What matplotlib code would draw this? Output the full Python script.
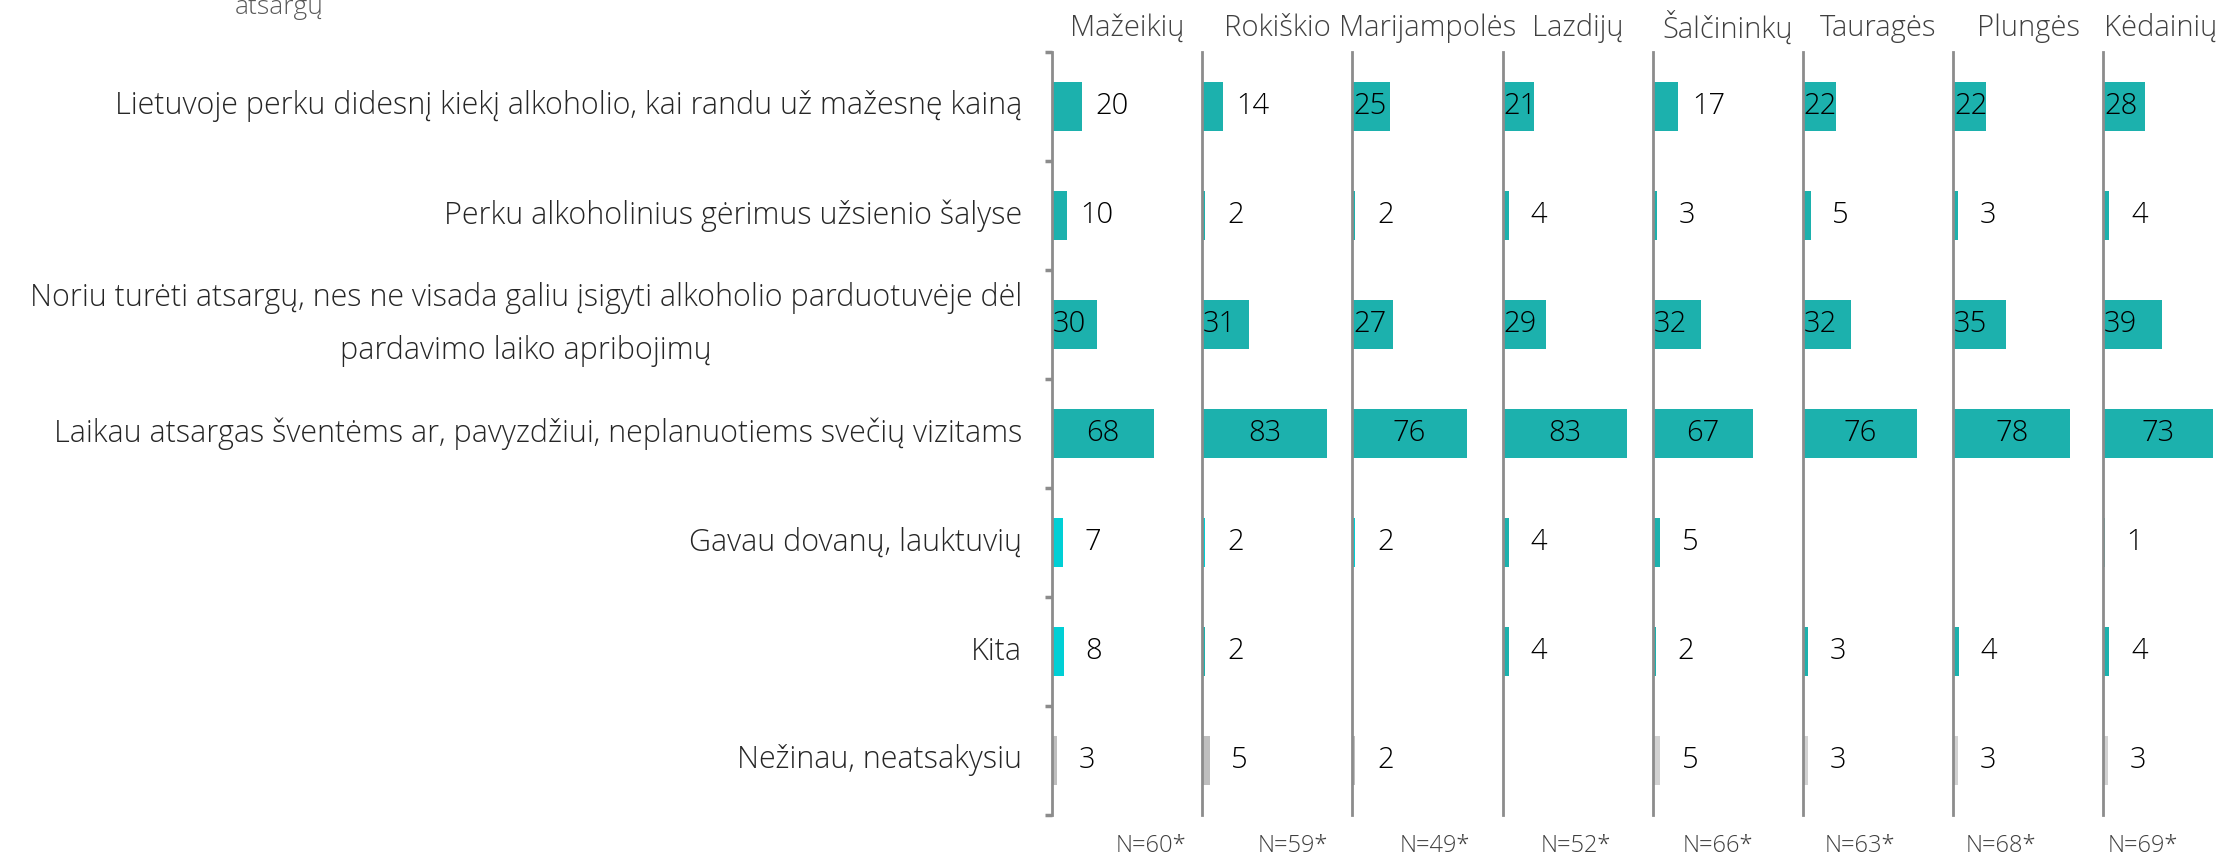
import matplotlib
matplotlib.use("Agg")
import matplotlib.pyplot as plt
import numpy as np

# Survey answers (rows) and regions (panels)
categories = [
    "Lietuvoje perku didesnį kiekį alkoholio, kai randu už mažesnę kainą",
    "Perku alkoholinius gėrimus užsienio šalyse",
    "Noriu turėti atsargų, nes ne visada galiu įsigyti alkoholio parduotuvėje dėl\npardavimo laiko apribojimų",
    "Laikau atsargas šventėms ar, pavyzdžiui, neplanuotiems svečių vizitams",
    "Gavau dovanų, lauktuvių",
    "Kita",
    "Nežinau, neatsakysiu",
]
regions = ["Mažeikių", "Rokiškio", "Marijampolės", "Lazdijų",
           "Šalčininkų", "Tauragės", "Plungės", "Kėdainių"]
sample_sizes = ["N=60*", "N=59*", "N=49*", "N=52*", "N=66*", "N=63*", "N=68*", "N=69*"]

mazeikiu = [20, 10, 30, 68, 7, 8, 3]
rokiskio = [14, 2, 31, 83, 2, 2, 5]
marijampoles = [25, 2, 27, 76, 2, None, 2]
lazdiju = [21, 4, 29, 83, 4, 4, None]
salcininku = [17, 3, 32, 67, 5, 2, 5]
taurages = [22, 5, 32, 76, None, 3, 3]
plunges = [22, 3, 35, 78, None, 4, 3]
kedainiu = [28, 4, 39, 73, 1, 4, 3]
region_values = [mazeikiu, rokiskio, marijampoles, lazdiju,
                 salcininku, taurages, plunges, kedainiu]

title_tail = "atsargų"

# Colours
TEAL = "#1CB1AD"
CYAN = "#00CFD5"
GRAY_DARK = "#BFBFBF"
GRAY_LIGHT = "#D2D2D2"
AXIS = "#8C8C8C"
TEXT = "#262626"
HEAD = "#404040"
bright_cells = {(4, 0), (4, 1), (4, 2), (5, 0)}

plt.rcParams["font.family"] = ["Open Sans", "DejaVu Sans"]
WEIGHT = "light"

W, H = 2222, 860
fig = plt.figure(figsize=(W / 100, H / 100), dpi=100)

x0_px, panel_px = 1052, 150.2
top_px, bot_px = 52, 815
bottom = (H - bot_px) / H
height = (bot_px - top_px) / H
n_rows = len(categories)
bar_h = 0.45

for p, (name, vals) in enumerate(zip(regions, region_values)):
    left = (x0_px + p * panel_px) / W
    ax = fig.add_axes([left, bottom, panel_px / W, height])
    ax.set_xlim(0, 100)
    ax.set_ylim(n_rows, 0)
    for s in ("top", "right", "bottom"):
        ax.spines[s].set_visible(False)
    ax.spines["left"].set_color(AXIS)
    ax.spines["left"].set_linewidth(2.0)
    ax.set_xticks([])
    ax.set_yticks(np.arange(n_rows + 1))
    ax.set_yticklabels([])
    if p == 0:
        ax.tick_params(axis="y", direction="out", length=5, width=2.5, color=AXIS)
    else:
        ax.tick_params(axis="y", length=0)
    ax.patch.set_alpha(0)

    for r, v in enumerate(vals):
        if v is None:
            continue
        if r == n_rows - 1:
            col = GRAY_DARK if p < 3 else GRAY_LIGHT
        elif (r, p) in bright_cells:
            col = CYAN
        else:
            col = TEAL
        yc = r + 0.5
        ax.barh(yc, v, height=bar_h, color=col, edgecolor="none", zorder=2)
        if v >= 60:
            x, ha = v / 2, "center"
        elif v > 20:
            x, ha = 0.5, "left"
        else:
            x, ha = v + 20, "center"
        ax.text(x, yc, f"{v}", ha=ha, va="center", fontsize=21,
                color="#000000", fontweight=WEIGHT, zorder=3)

    # Region header above each panel
    hx = left + panel_px / 2 / W
    if p == len(regions) - 1:
        fig.text(0.998, 1 - 28 / H, name, ha="right", va="center",
                 fontsize=21, color=HEAD, fontweight=WEIGHT)
    else:
        fig.text(hx, 1 - 28 / H, name, ha="center", va="center",
                 fontsize=21, color=HEAD, fontweight=WEIGHT)

    if p == 0:
        for r, lab in enumerate(categories):
            ax.text(-30 / panel_px * 100, r + 0.5, lab, ha="right", va="center",
                    multialignment="center", fontsize=22, color=TEXT,
                    fontweight=WEIGHT, linespacing=1.85, clip_on=False)

# Sample sizes along the bottom
n_x0, n_step = 1151, 141.7
for i, s in enumerate(sample_sizes):
    fig.text((n_x0 + i * n_step) / W, 1 - 846 / H, s, ha="center", va="center",
             fontsize=17, color=HEAD, fontweight=WEIGHT)

# Last line of the wrapped title running off the top edge
fig.text(235 / W, 1 - 14 / H, title_tail, ha="left", va="baseline",
         fontsize=19, color="#595959", fontweight=WEIGHT)

fig.savefig("out.png", dpi=100, facecolor="white")
